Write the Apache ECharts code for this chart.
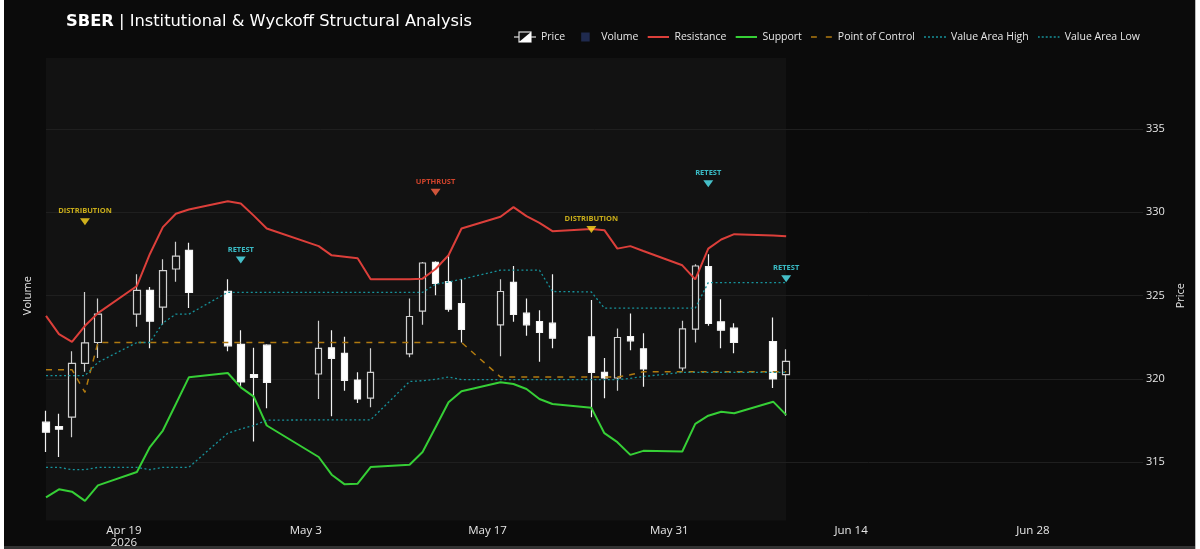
<!DOCTYPE html>
<html>
<head>
<meta charset="utf-8">
<script src="https://cdn.jsdelivr.net/npm/echarts@6/dist/echarts.min.js"></script>
<style>
html,body{margin:0;padding:0;background:#0b0b0b;overflow:hidden;}
#c{position:absolute;left:0;top:0;width:1200px;height:549px;}
.edge{position:absolute;pointer-events:none;}
</style>
</head>
<body>
<div id="c"></div>
<div class="edge" style="left:0;top:0;width:4px;height:549px;background:#fff;"></div>
<div class="edge" style="left:1195px;top:0;width:5px;height:549px;background:#fff;border-left:1px solid #bbb;"></div>
<div class="edge" style="left:4px;top:546px;width:1191px;height:3px;background:#333;"></div>
<script>
// ---------- DATA ----------
const dates = ['2026-04-13','2026-04-14','2026-04-15','2026-04-16','2026-04-17',
  '2026-04-20','2026-04-21','2026-04-22','2026-04-23','2026-04-24',
  '2026-04-27','2026-04-28','2026-04-29','2026-04-30',
  '2026-05-04','2026-05-05','2026-05-06','2026-05-07','2026-05-08',
  '2026-05-11','2026-05-12','2026-05-13','2026-05-14','2026-05-15',
  '2026-05-18','2026-05-19','2026-05-20','2026-05-21','2026-05-22',
  '2026-05-25','2026-05-26','2026-05-27','2026-05-28','2026-05-29',
  '2026-06-01','2026-06-02','2026-06-03','2026-06-04','2026-06-05',
  '2026-06-08','2026-06-09'];
const openP  = [317.41,317.15,317.71,320.94,322.19, 323.89,325.32,324.31,326.60,327.72, 325.26,322.08,320.26,322.03,
  320.30,321.87,321.54,319.94,318.85, 321.51,324.07,327.00,325.84,324.53, 323.25,325.80,323.95,323.45,323.35,
  322.53,320.40,320.06,322.55,321.81, 320.66,322.99,326.74,323.43,323.05, 322.25,320.26];
const closeP = [316.81,316.99,320.94,322.17,323.89, 325.32,323.47,326.50,327.37,325.19, 321.99,319.82,320.10,319.80,
  321.84,321.24,319.92,318.80,320.40, 323.75,326.96,325.74,324.19,322.97, 325.25,323.87,323.25,322.79,322.45,
  320.40,320.06,322.49,322.29,320.60, 323.01,326.78,323.33,322.93,322.19, 320.00,321.06];
const lowP   = [315.62,315.32,316.51,320.44,321.26, 323.13,321.84,323.25,325.84,324.26, 321.66,319.50,316.25,318.25,
  318.80,317.77,319.30,318.56,318.31, 321.30,323.25,325.02,324.03,322.19, 321.36,323.43,322.59,321.03,321.84,
  317.71,318.85,319.30,321.73,319.54, 320.50,322.19,323.19,321.85,321.54, 319.46,317.80];
const highP  = [318.10,317.91,321.66,325.22,324.83, 326.28,325.52,327.18,328.24,328.18, 325.98,322.93,321.87,322.09,
  323.49,322.93,322.53,320.40,321.84, 324.83,327.02,327.06,327.42,325.98, 325.98,326.78,324.83,324.13,326.28,
  324.74,321.26,323.03,323.93,322.75, 323.49,326.88,327.48,324.78,323.35, 323.69,321.79];
// volume bars are not visible in the reference picture
const volume = [];
const resistance = [323.79,322.69,322.23,323.19,323.95, 325.58,327.50,329.11,329.91,330.17, 330.66,330.53,329.80,329.03,
  327.97,327.42,327.33,327.24,325.98, 325.98,326.02,326.60,327.42,329.03, 329.73,330.31,329.77,329.37,328.87,
  329.00,328.93,327.82,327.97,327.68, 326.82,325.98,327.82,328.37,328.69, 328.61,328.57];
const support = [312.90,313.38,313.24,312.69,313.62, 314.42,315.92,316.91,318.50,320.10, 320.36,319.50,318.94,317.21,
  315.32,314.26,313.68,313.72,314.72, 314.86,315.62,317.11,318.61,319.27, 319.80,319.70,319.40,318.80,318.50,
  318.27,316.75,316.21,315.45,315.69, 315.65,317.31,317.80,318.04,317.95, 318.64,317.85];
const poc = [320.56,320.56,320.56,319.20,322.19, 322.19,322.19,322.19,322.19,322.19, 322.19,322.19,322.19,322.19,
  322.19,322.19,322.19,322.19,322.19, 322.19,322.19,322.19,322.19,322.19, 320.12,320.12,320.12,320.12,320.12,
  320.12,320.12,320.12,320.25,320.44, 320.44,320.44,320.44,320.44,320.44, 320.44,320.44];
const vah = [320.20,320.20,320.20,320.20,321.00, 322.19,322.19,323.36,323.89,323.89, 325.20,325.20,325.20,325.20,
  325.20,325.20,325.20,325.20,325.20, 325.20,325.20,325.68,325.82,325.98, 326.53,326.53,326.53,326.53,325.25,
  325.22,324.25,324.25,324.25,324.25, 324.25,324.25,325.78,325.78,325.78, 325.78,325.78];
const val = [314.70,314.70,314.56,314.56,314.70, 314.70,314.56,314.70,314.70,314.70, 316.75,317.00,317.21,317.53,
  317.55,317.55,317.55,317.55,317.55, 319.85,319.90,319.98,320.12,319.96, 319.96,319.96,319.96,319.96,319.96,
  319.96,319.96,319.96,320.04,320.15, 320.40,320.40,320.40,320.40,320.40, 320.40,320.40];
const sigDates  = ['2026-04-16','2026-04-28','2026-05-13','2026-05-25','2026-06-03','2026-06-09'];
const sigLevels = [329.43,327.14,331.20,328.97,331.72,326.02];
const sigTexts  = ['DISTRIBUTION','RETEST','UPTHRUST','DISTRIBUTION','RETEST','RETEST'];
const xTickDates  = ['2026-04-19','2026-05-03','2026-05-17','2026-05-31','2026-06-14','2026-06-28'];
const xTickLabels = ['Apr 19\n2026','May 3','May 17','May 31','Jun 14','Jun 28'];
const priceTicks = [315,320,325,330,335];

// ---------- BUILD ----------
const DAY = 864e5;
const t = d => new Date(d + 'T00:00:00').getTime();
const FONT = '"Open Sans", "Noto Sans", sans-serif';
const TITLE_FONT = '"DejaVu Sans", "Open Sans", sans-serif';
const sigStyle = {
  DISTRIBUTION: {text:'#f5d21c', mark:'#ffd81f'},
  RETEST: {text:'#45e6f2', mark:'#52eaf5'},
  UPTHRUST: {text:'#ff5032', mark:'#ff6545'}
};
const COL = {res:'#dc3f3a', sup:'#36cf36', poc:'#b07a10', va:'#17929b'};
const line = (arr) => dates.map((d,i)=>[t(d), arr[i]]);
const svgIcon = s => 'image://data:image/svg+xml;charset=utf-8,' +
  encodeURIComponent('<svg xmlns="http://www.w3.org/2000/svg" width="22" height="12" viewBox="0 0 22 12">' + s + '</svg>');
const priceIcon = svgIcon(
  '<line x1="0" y1="6" x2="5" y2="6" stroke="#e0e0e0" stroke-width="1.2"/>' +
  '<line x1="17" y1="6" x2="22" y2="6" stroke="#e0e0e0" stroke-width="1.2"/>' +
  '<rect x="5" y="1" width="12" height="10" fill="#111" stroke="#e0e0e0" stroke-width="1.2"/>' +
  '<polygon points="17,1 17,11 5,11" fill="#fff"/>');
const volIcon = svgIcon('<rect x="7" y="1.5" width="8.5" height="9" fill="#1f2a4e"/>');
const lineIcon = (c, w, dash) => svgIcon('<line x1="0" y1="6" x2="22" y2="6" stroke="' + c + '" stroke-width="' + w + '"' +
  (dash ? ' stroke-dasharray="' + dash + '"' : '') + '/>');

const xMin = t(dates[0]);
const xMax = xMin + 84.48 * DAY;
const gridColor = '#1f1f1f';
const xTickTimes = xTickDates.map(t);

const option = {
  backgroundColor: '#0b0b0b',
  animation: false,
  textStyle: {fontFamily: FONT},
  title: {
    left: 61, top: 9,
    text: '{b|SBER} | Institutional & Wyckoff Structural Analysis',
    textStyle: {color:'#ffffff', fontSize:16.3, fontWeight:'normal', fontFamily:TITLE_FONT,
      rich: {b: {color:'#ffffff', fontSize:16.3, fontWeight:'bold', fontFamily:TITLE_FONT}}}
  },
  legend: {
    left: 509, top: 26, itemWidth: 22, itemHeight: 12, itemGap: 9,
    selectedMode: false,
    textStyle: {color:'#e6e6e6', fontSize:10.5, fontFamily:FONT},
    data: [
      {name:'Price', icon: priceIcon},
      {name:'Volume', icon: volIcon},
      {name:'Resistance', icon: lineIcon(COL.res, 2)},
      {name:'Support', icon: lineIcon(COL.sup, 2)},
      {name:'Point of Control', icon: lineIcon(COL.poc, 1.6, '6,9')},
      {name:'Value Area High', icon: lineIcon(COL.va, 1.4, '2,2')},
      {name:'Value Area Low', icon: lineIcon(COL.va, 1.4, '2,2')}
    ]
  },
  grid: {left: 46, right: 57, top: 45.6, bottom: 1.8},
  xAxis: {
    type: 'value', min: xMin, max: xMax, offset: -24.7, scale: true,
    axisLine: {show:false}, axisTick: {show:false}, splitLine: {show:false},
    axisLabel: {
      customValues: xTickTimes,
      color:'#e6e6e6', fontSize:11.5, margin:3, lineHeight:12.5, fontFamily:FONT,
      formatter: (v) => {
        const i = xTickTimes.findIndex(x => Math.abs(x - v) < DAY/2);
        return i >= 0 ? xTickLabels[i] : '';
      }
    }
  },
  yAxis: [{
    type: 'value', position: 'right', min: 310, max: 340, interval: 5, z: 2,
    name: 'Price', nameLocation: 'middle', nameGap: 31,
    nameTextStyle: {color:'#e6e6e6', fontSize:11, fontFamily:FONT},
    axisLine: {show:false}, axisTick: {show:false},
    axisLabel: {color:'#e6e6e6', fontSize:11, margin:3, fontFamily:FONT,
      formatter: v => priceTicks.indexOf(v) >= 0 ? String(v) : ''},
    splitLine: {show:true, lineStyle: {color: ['transparent', gridColor, gridColor, gridColor, gridColor, gridColor, 'transparent'], width:1}}
  }, {
    type: 'value', position: 'left', min: 0, max: 1,
    name: 'Volume', nameLocation: 'middle', nameGap: 13,
    nameTextStyle: {color:'#e6e6e6', fontSize:11, fontFamily:FONT},
    axisLine: {show:false}, axisTick: {show:false}, axisLabel: {show:false}, splitLine: {show:false}
  }],
  series: [
    {
      name: 'Volume', type: 'bar', yAxisIndex: 1, z: 1,
      itemStyle: {color:'#1f2a4e'},
      data: volume,
      markArea: {
        silent: true,
        itemStyle: {color:'#121212'},
        data: [[{xAxis: t(dates[0]), yAxis: 0.0503}, {xAxis: t(dates[dates.length-1]), yAxis: 0.9753}]]
      }
    },
    {
      name: 'Price', type: 'candlestick', z: 3, barWidth: 7,
      encode: {x:0, y:[1,2,3,4]},
      itemStyle: {color:'#111111', color0:'#ffffff', borderColor:'#cfcfcf', borderColor0:'#f2f2f2', borderWidth:1.2},
      data: dates.map((d,i)=>[t(d), openP[i], closeP[i], lowP[i], highP[i]])
    },
    {name:'Resistance', type:'line', z:4, symbol:'none', color:COL.res,
      lineStyle:{color:COL.res, width:2}, data: line(resistance)},
    {name:'Support', type:'line', z:4, symbol:'none', color:COL.sup,
      lineStyle:{color:COL.sup, width:2}, data: line(support)},
    {name:'Point of Control', type:'line', z:4, symbol:'none', color:COL.poc,
      lineStyle:{color:COL.poc, width:1.5, type:[6,6]}, data: line(poc)},
    {name:'Value Area High', type:'line', z:4, symbol:'none', color:COL.va,
      lineStyle:{color:COL.va, width:1.3, type:[2,2.5]}, data: line(vah)},
    {name:'Value Area Low', type:'line', z:4, symbol:'none', color:COL.va,
      lineStyle:{color:COL.va, width:1.3, type:[2,2.5]}, data: line(val)},
    {
      name: 'Signals', type: 'scatter', z: 5,
      symbol: 'triangle', symbolRotate: 180, symbolSize: [10,7],
      data: sigDates.map((d,i)=>({
        value: [t(d), sigLevels[i]],
        itemStyle: {color: sigStyle[sigTexts[i]].mark},
        label: {show:true, position:'top', distance:3, formatter: sigTexts[i],
          color: sigStyle[sigTexts[i]].text, fontSize:7.5, fontWeight:'bold', fontFamily:FONT}
      }))
    }
  ]
};
const chart = echarts.init(document.getElementById('c'), null, {renderer:'canvas'});
chart.setOption(option);
</script>
</body>
</html>
